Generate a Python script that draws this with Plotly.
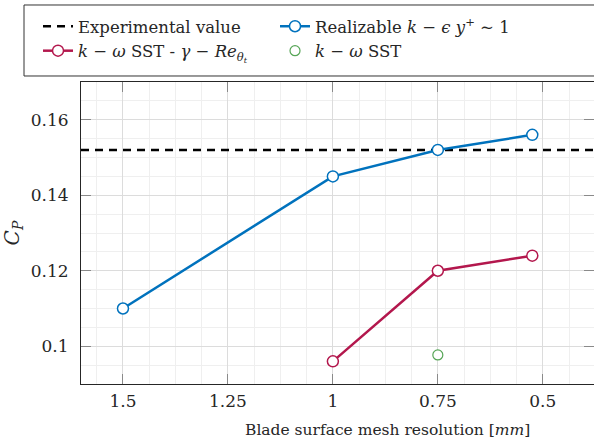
import plotly.graph_objects as go

# ---- data ----
mesh_blue = [1.5, 1.0, 0.75, 0.525]
cp_blue = [0.110, 0.145, 0.152, 0.156]
mesh_red = [1.0, 0.75, 0.525]
cp_red = [0.096, 0.120, 0.124]
mesh_green = [0.75]
cp_green = [0.0977]
cp_experimental = 0.152

x_ticks = [1.5, 1.25, 1.0, 0.75, 0.5]
x_tick_labels = ["1.5", "1.25", "1", "0.75", "0.5"]
y_ticks = [0.10, 0.12, 0.14, 0.16]
y_tick_labels = ["0.1", "0.12", "0.14", "0.16"]

X_RANGE = [1.6, 0.378]
Y_RANGE = [0.09, 0.17]

FONT = "DejaVu Serif"
BLUE = "#0072BD"
RED = "#B3174D"
GREEN = "#56A556"

fig = go.Figure()

fig.add_trace(go.Scatter(
    x=X_RANGE, y=[cp_experimental, cp_experimental], mode="lines",
    line=dict(color="black", width=2.5, dash="8px,6px"),
    name="Experimental value",
))
fig.add_trace(go.Scatter(
    x=mesh_blue, y=cp_blue, mode="lines+markers",
    line=dict(color=BLUE, width=2.5),
    marker=dict(symbol="circle", size=11, color="white", line=dict(color=BLUE, width=1.5)),
    name="Realizable <i>k</i> − <i>ϵ</i> <i>y</i><sup>+</sup> ∼ 1",
))
fig.add_trace(go.Scatter(
    x=mesh_red, y=cp_red, mode="lines+markers",
    line=dict(color=RED, width=2.5),
    marker=dict(symbol="circle", size=11, color="white", line=dict(color=RED, width=1.5)),
    name="<i>k</i> − <i>ω</i> SST - <i>γ</i> − <i>Re</i><sub><i>θ<sub>t</sub></i></sub>",
))
fig.add_trace(go.Scatter(
    x=mesh_green, y=cp_green, mode="markers",
    marker=dict(symbol="circle", size=10, color="white", line=dict(color=GREEN, width=1.2)),
    name="<i>k</i> − <i>ω</i> SST",
))

axis_common = dict(
    showline=True, linecolor="#262626", linewidth=1,
    mirror="ticks", ticks="inside", ticklen=10, tickcolor="#8a8a8a", tickwidth=1,
    showgrid=True, gridcolor="#dcdcdc", gridwidth=1,
    zeroline=False,
    tickfont=dict(family=FONT, size=17, color="#262626"),
)

fig.update_xaxes(
    range=X_RANGE, tickmode="array", tickvals=x_ticks, ticktext=x_tick_labels,
    minor=dict(tickmode="linear", tick0=0.5, dtick=0.0625, showgrid=True,
               gridcolor="#efefef", gridwidth=1, ticks=""),
    ticklabelstandoff=2,
    **axis_common,
)
fig.update_yaxes(
    range=Y_RANGE, tickmode="array", tickvals=y_ticks, ticktext=y_tick_labels,
    minor=dict(tickmode="linear", tick0=0.09, dtick=0.005, showgrid=True,
               gridcolor="#efefef", gridwidth=1, ticks=""),
    ticklabelstandoff=8,
    title=dict(text="<i>C<sub>P</sub></i>", font=dict(family=FONT, size=20, color="#262626"), standoff=10),
    **axis_common,
)

fig.add_annotation(
    text="Blade surface mesh resolution [<i>mm</i>]",
    xref="paper", yref="paper", x=0.5965, y=-0.152,
    xanchor="center", yanchor="middle", showarrow=False,
    font=dict(family=FONT, size=15.5, color="#262626"),
)

# legend frame (extends beyond the visible right edge, as in the reference)
fig.add_shape(
    type="rect", xref="paper", yref="paper",
    x0=-0.1111, x1=1.02, y0=1.0199, y1=1.255,
    line=dict(color="#333333", width=1), fillcolor="rgba(0,0,0,0)", layer="above",
)

fig.update_layout(
    width=594, height=443,
    margin=dict(l=81, r=0, t=82, b=59),
    paper_bgcolor="white", plot_bgcolor="white",
    font=dict(family=FONT, size=17, color="#262626"),
    showlegend=True,
    legend=dict(
        orientation="h", x=-0.0838, xanchor="left", y=1.2417, yanchor="top",
        entrywidth=192, entrywidthmode="pixels",
        borderwidth=0, bgcolor="rgba(0,0,0,0)",
        font=dict(family=FONT, size=16.5, color="#262626"),
        traceorder="normal",
    ),
)

fig.write_html("out.html")
